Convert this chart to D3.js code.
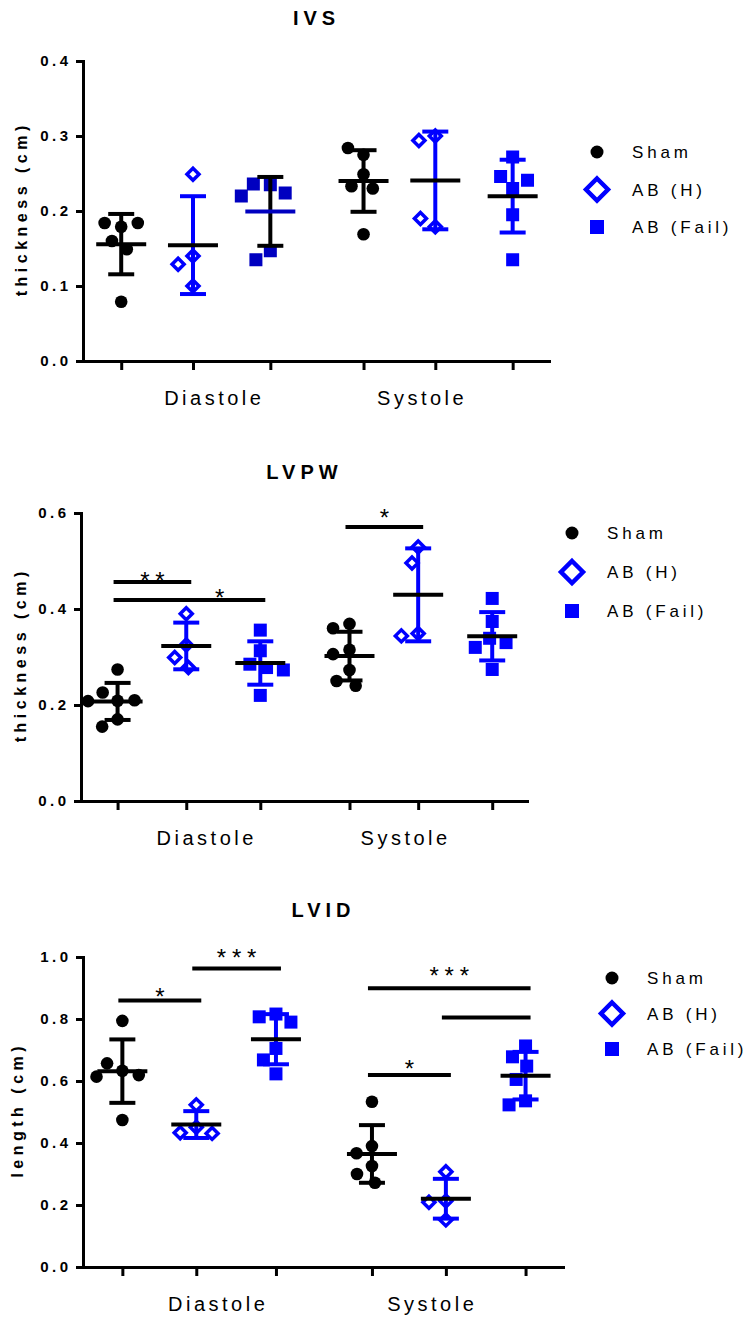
<!DOCTYPE html>
<html>
<head>
<meta charset="utf-8">
<script src="https://cdn.jsdelivr.net/npm/d3@7"></script>
<style>
  body { margin: 0; background: #fff; }
  svg { display: block; font-family: "Liberation Sans", Arial, sans-serif; }
</style>
</head>
<body>
<div id="chart"></div>
<script>
// ===== data =====
const phases = ["Diastole", "Systole"];
const groups = ["Sham", "AB (H)", "AB (Fail)"];

// IVS thickness (cm) - one list per group: Sham, AB (H), AB (Fail)
const ivsDiastole = [
  [0.179, 0.184, 0.184, 0.160, 0.149, 0.079],
  [0.249, 0.140, 0.129, 0.100],
  [0.235, 0.236, 0.224, 0.220, 0.147, 0.135]
];
const ivsSystole = [
  [0.249, 0.275, 0.284, 0.233, 0.230, 0.169],
  [0.300, 0.294, 0.179, 0.190],
  [0.272, 0.230, 0.246, 0.241, 0.195, 0.135]
];

// LVPW thickness (cm)
const lvpwDiastole = [
  [0.274, 0.209, 0.226, 0.210, 0.208, 0.170, 0.155],
  [0.390, 0.325, 0.299, 0.278],
  [0.356, 0.313, 0.285, 0.278, 0.273, 0.220]
];
const lvpwSystole = [
  [0.369, 0.360, 0.315, 0.306, 0.273, 0.250, 0.240],
  [0.529, 0.496, 0.349, 0.344],
  [0.422, 0.374, 0.339, 0.330, 0.320, 0.274]
];

// LVID length (cm)
const lvidDiastole = [
  [0.794, 0.633, 0.657, 0.619, 0.614, 0.474],
  [0.523, 0.451, 0.433, 0.431],
  [0.816, 0.807, 0.790, 0.705, 0.668, 0.623]
];
const lvidSystole = [
  [0.533, 0.390, 0.367, 0.326, 0.300, 0.272],
  [0.307, 0.213, 0.209, 0.152],
  [0.713, 0.678, 0.648, 0.605, 0.536, 0.523]
];

// y tick labels
const ivsTicks = [0, 0.1, 0.2, 0.3, 0.4];
const lvpwTicks = [0, 0.2, 0.4, 0.6];
const lvidTicks = [0, 0.2, 0.4, 0.6, 0.8, 1.0];

// significance bars: group index 0-5 (Diastole 0-2, Systole 3-5), bar level, label, label level
const ivsSig = [];
const lvpwSig = [
  { from: 0, to: 1, level: 0.456, label: "**", labelLevel: 0.469 },
  { from: 0, to: 2, level: 0.419, label: "*", labelLevel: 0.435, labelAt: 1.45 },
  { from: 3, to: 4, level: 0.571, label: "*", labelLevel: 0.602 }
];
const lvidSig = [
  { from: 0, to: 1, level: 0.860, label: "*", labelLevel: 0.890 },
  { from: 1, to: 2, level: 0.963, label: "***", labelLevel: 1.013 },
  { from: 3, to: 5, level: 0.899, label: "***", labelLevel: 0.958 },
  { from: 4, to: 5, level: 0.805, label: "", labelLevel: 0 },
  { from: 3, to: 4, level: 0.619, label: "*", labelLevel: 0.658 }
];

// ===== layout =====
const W = 752, H = 1322;
const BLUE = "#0000ff";
const groupPos = [0.082, 0.236, 0.402, 0.602, 0.756, 0.922]; // share of x axis length
const phasePos = [0.278, 0.724];

const panels = [
  { title: "IVS", yLabel: "thickness (cm)", values: [...ivsDiastole, ...ivsSystole],
    ticks: ivsTicks, sig: ivsSig,
    left: 83, right: 549, top: 61, bottom: 361, titleY: 25, labelX: 27,
    legendX: 597, legendY: 152, legendGap: 37.5,
    override: { group: 2, point: "#0000c0", whisker: "#000", mean: "#0000c0" } },
  { title: "LVPW", yLabel: "thickness (cm)", values: [...lvpwDiastole, ...lvpwSystole],
    ticks: lvpwTicks, sig: lvpwSig,
    left: 81, right: 527, top: 513, bottom: 801, titleY: 479, labelX: 26,
    legendX: 572, legendY: 533, legendGap: 39 },
  { title: "LVID", yLabel: "length (cm)", values: [...lvidDiastole, ...lvidSystole],
    ticks: lvidTicks, sig: lvidSig,
    left: 83, right: 563, top: 957, bottom: 1267, titleY: 917, labelX: 23,
    legendX: 612, legendY: 978, legendGap: 35.5 }
];

const svg = d3.select("#chart").append("svg")
  .attr("width", W)
  .attr("height", H);

// spread points of one group sideways so they don't sit on top of each other
function dodge(ys, D) {
  const placed = [];
  return ys.map(y => {
    const spans = [];
    placed.forEach(p => {
      const dy = Math.abs(p.y - y);
      if (dy < D) {
        const w = Math.sqrt(D * D - dy * dy);
        spans.push([p.x - w, p.x + w]);
      }
    });
    const cands = [0];
    spans.forEach(s => cands.push(s[0], s[1]));
    const ok = x => spans.every(s => x <= s[0] + 1e-6 || x >= s[1] - 1e-6);
    let best = null;
    cands.filter(ok).forEach(x => {
      if (best === null) { best = x; return; }
      const a = Math.abs(x), b = Math.abs(best);
      if (a < b - 1e-6 || (Math.abs(a - b) < 1e-6 && x < best)) best = x;
    });
    placed.push({ x: best, y });
    return best;
  });
}

function drawMarker(g, kind, cx, cy, color, big) {
  if (kind === 0) {
    g.append("circle")
      .attr("cx", cx).attr("cy", cy)
      .attr("r", big ? 6.5 : 6.3)
      .attr("fill", "#000");
  } else if (kind === 1) {
    const s = big ? 11 : 6;
    g.append("path")
      .attr("d", `M${cx},${cy - s}L${cx + s},${cy}L${cx},${cy + s}L${cx - s},${cy}Z`)
      .attr("fill", "#fff")
      .attr("stroke", color)
      .attr("stroke-width", big ? 4.5 : 3.5);
  } else {
    const s = big ? 14 : 13;
    g.append("rect")
      .attr("x", cx - s / 2).attr("y", cy - s / 2)
      .attr("width", s).attr("height", s)
      .attr("fill", color);
  }
}

panels.forEach(p => {
  const x = d3.scaleLinear().domain([0, 1]).range([p.left, p.right]);
  const y = d3.scaleLinear().domain([0, d3.max(p.ticks)]).range([p.bottom, p.top]);
  const g = svg.append("g");

  // title
  g.append("text")
    .attr("x", (p.left + p.right) / 2 - 2)
    .attr("y", p.titleY)
    .attr("dx", 2.5)
    .attr("text-anchor", "middle")
    .attr("font-size", 20)
    .attr("font-weight", "bold")
    .attr("letter-spacing", "5px")
    .text(p.title);

  // y axis
  const gy = g.append("g")
    .attr("transform", `translate(${p.left},0)`)
    .call(d3.axisLeft(y).tickValues(p.ticks).tickFormat(d3.format(".1f"))
      .tickSize(7).tickPadding(8).tickSizeOuter(0));
  gy.attr("font-family", null).attr("font-size", null);
  gy.select(".domain").attr("stroke-width", 3).attr("stroke-linecap", "square");
  gy.selectAll(".tick line").attr("stroke-width", 3);
  gy.selectAll(".tick text")
    .attr("font-size", 15)
    .attr("font-weight", "bold")
    .attr("letter-spacing", "3.5px")
    .attr("dx", 3.5)
    .attr("fill", "#000");

  // x axis
  const gx = g.append("g")
    .attr("transform", `translate(0,${p.bottom})`)
    .call(d3.axisBottom(x).tickValues(groupPos).tickFormat("").tickSize(9).tickSizeOuter(0));
  gx.select(".domain").attr("stroke-width", 3).attr("stroke-linecap", "square");
  gx.selectAll(".tick line").attr("stroke-width", 3);

  phases.forEach((ph, i) => {
    g.append("text")
      .attr("x", x(phasePos[i]))
      .attr("y", p.bottom + 44)
      .attr("dx", 1.75)
      .attr("text-anchor", "middle")
      .attr("font-size", 20)
      .attr("letter-spacing", "3.5px")
      .text(ph);
  });

  // y axis title
  g.append("text")
    .attr("transform", `translate(${p.labelX},${(p.top + p.bottom) / 2}) rotate(-90)`)
    .attr("dx", 2.25)
    .attr("text-anchor", "middle")
    .attr("font-size", 16)
    .attr("font-weight", "bold")
    .attr("letter-spacing", "4.5px")
    .text(p.yLabel);

  // points, then SD bars and mean on top
  p.values.forEach((vals, gi) => {
    const kind = gi % 3;
    const ov = p.override && p.override.group === gi ? p.override : null;
    const pointColor = ov ? ov.point : (kind === 0 ? "#000" : BLUE);
    const whiskerColor = ov ? ov.whisker : (kind === 0 ? "#000" : BLUE);
    const meanColor = ov ? ov.mean : "#000";
    const cx = x(groupPos[gi]);
    const ys = vals.map(v => y(v));
    const offs = dodge(ys, 17);
    ys.forEach((py, k) => drawMarker(g, kind, cx + offs[k], py, pointColor, false));

    const m = d3.mean(vals), sd = d3.deviation(vals);
    const y1 = y(m + sd), y0 = y(m - sd);
    g.append("line")
      .attr("x1", cx).attr("x2", cx).attr("y1", y1).attr("y2", y0)
      .attr("stroke", whiskerColor).attr("stroke-width", 4);
    [y1, y0].forEach(yy => {
      g.append("line")
        .attr("x1", cx - 13).attr("x2", cx + 13).attr("y1", yy).attr("y2", yy)
        .attr("stroke", whiskerColor).attr("stroke-width", 4);
    });
    g.append("line")
      .attr("x1", cx - 25).attr("x2", cx + 25).attr("y1", y(m)).attr("y2", y(m))
      .attr("stroke", meanColor).attr("stroke-width", 4);
  });

  // significance bars
  const posAt = t => {
    const i = Math.floor(t), f = t - i;
    return f === 0 ? x(groupPos[i]) : x(groupPos[i]) + f * (x(groupPos[i + 1]) - x(groupPos[i]));
  };
  p.sig.forEach(s => {
    const xa = x(groupPos[s.from]) - 4, xb = x(groupPos[s.to]) + 5;
    g.append("line")
      .attr("x1", xa).attr("x2", xb).attr("y1", y(s.level)).attr("y2", y(s.level))
      .attr("stroke", "#000").attr("stroke-width", 4);
    if (s.label) {
      const lx = s.labelAt !== undefined ? posAt(s.labelAt) : (xa + xb) / 2;
      g.append("text")
        .attr("x", lx)
        .attr("y", y(s.labelLevel) + 13.5)
        .attr("dx", 2.9)
        .attr("text-anchor", "middle")
        .attr("font-size", 24)
        .attr("letter-spacing", "5.8px")
        .text(s.label);
    }
  });

  // legend
  groups.forEach((name, i) => {
    const ly = p.legendY + i * p.legendGap;
    drawMarker(g, i, p.legendX, ly, i === 0 ? "#000" : BLUE, true);
    g.append("text")
      .attr("x", p.legendX + 35)
      .attr("y", ly + 6)
      .attr("font-size", 17)
      .attr("letter-spacing", "3.8px")
      .text(name);
  });
});
</script>
</body>
</html>
